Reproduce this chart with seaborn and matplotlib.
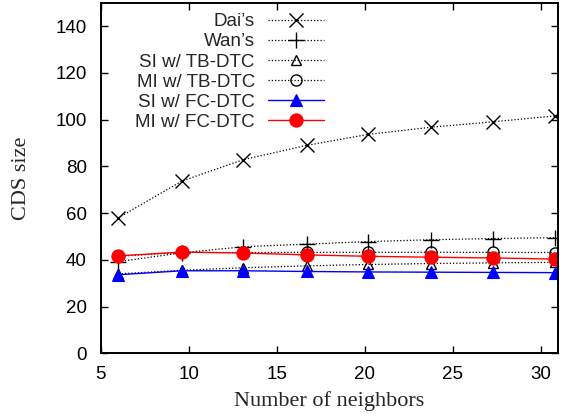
import matplotlib
matplotlib.use("Agg")
import matplotlib.pyplot as plt
import seaborn as sns
import pandas as pd

neighbors = [6.0, 9.6, 13.1, 16.7, 20.2, 23.8, 27.3, 30.8]
dai = [58.0, 73.7, 82.9, 89.0, 93.7, 96.8, 99.1, 101.6]
wan = [39.2, 43.0, 45.6, 46.7, 47.8, 48.6, 49.1, 49.5]
si_tb = [34.0, 35.5, 36.6, 37.4, 38.0, 38.4, 38.7, 38.9]
mi_tb = [41.5, 43.2, 43.1, 43.2, 43.2, 43.2, 43.2, 43.1]
si_fc = [33.6, 35.3, 35.3, 35.0, 34.8, 34.7, 34.6, 34.5]
mi_fc = [41.7, 43.3, 42.9, 42.1, 41.5, 41.1, 40.8, 40.3]

labels = ["Dai\u2019s", "Wan\u2019s", "SI w/ TB-DTC", "MI w/ TB-DTC",
          "SI w/ FC-DTC", "MI w/ FC-DTC"]
series = [dai, wan, si_tb, mi_tb, si_fc, mi_fc]

sns.set_style("ticks")
plt.rcParams["font.family"] = ["Liberation Sans", "DejaVu Sans"]

fig = plt.figure(figsize=(5.73, 4.18), dpi=100)
ax = fig.add_axes([0.176, 0.155, 0.798, 0.838])

dotted = (0, (1, 1.6))
styles = [
    dict(color="black", ls=dotted, lw=0.9, marker="x", ms=10, mew=1.0,
         mfc="none", mec="black"),
    dict(color="black", ls=dotted, lw=0.9, marker="+", ms=11, mew=1.0,
         mfc="none", mec="black"),
    dict(color="black", ls=dotted, lw=0.9, marker="^", ms=7, mew=1.0,
         mfc="none", mec="black"),
    dict(color="black", ls=dotted, lw=0.9, marker="o", ms=8, mew=1.0,
         mfc="none", mec="black"),
    dict(color="blue", ls="-", lw=1.0, marker="^", ms=8, mew=0.8,
         mfc="blue", mec="blue"),
    dict(color="red", ls="-", lw=1.0, marker="o", ms=9.5, mew=0.8,
         mfc="red", mec="red"),
]

for lab, vals, st in zip(labels, series, styles):
    df = pd.DataFrame({"n": neighbors, "size": vals})
    color = st.pop("color")
    ls = st.pop("ls")
    lw = st.pop("lw")
    sns.lineplot(data=df, x="n", y="size", ax=ax, label=lab, color=color,
                 linestyle=ls, linewidth=lw, **st)

ax.set_xlim(5, 31)
ax.set_ylim(0, 150)
ax.set_xticks([5, 10, 15, 20, 25, 30])
ax.set_yticks([0, 20, 40, 60, 80, 100, 120, 140])
ax.tick_params(direction="in", length=5, width=1.0, top=True, right=True,
               labelsize=13.5, colors="black")
ax.tick_params(axis="y", pad=10)
ax.tick_params(axis="x", pad=9)
for sp in ax.spines.values():
    sp.set_visible(True)
    sp.set_linewidth(1.4)
    sp.set_color("black")

ax.set_xlabel("Number of neighbors", fontsize=16,
              family=["Liberation Serif", "DejaVu Serif"], labelpad=6)
ax.set_ylabel("CDS size", fontsize=16,
              family=["Liberation Serif", "DejaVu Serif"], labelpad=18)

leg = ax.legend(loc="upper right", bbox_to_anchor=(0.513, 1.003),
                frameon=False, markerfirst=False, fontsize=13.5,
                handlelength=3.0, handletextpad=0.7, labelspacing=0.16,
                borderpad=0.1)

fig.savefig("out.png", dpi=100)
